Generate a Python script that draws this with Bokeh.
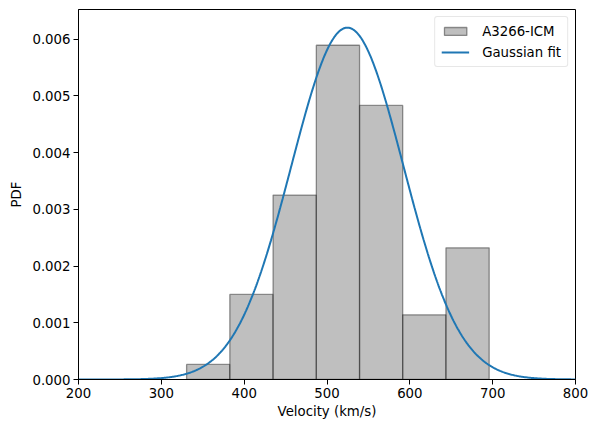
import numpy as np
from bokeh.plotting import figure
from bokeh.models import FixedTicker, PrintfTickFormatter, Range1d, Legend, LegendItem
from bokeh.embed import file_html
from bokeh.resources import INLINE

# Histogram (density) of A3266-ICM velocities
bin_edges = [330.5, 382.7, 434.9, 487.1, 539.3, 591.4, 643.6, 695.8]
densities = [0.000265, 0.00150, 0.00325, 0.00589, 0.00483, 0.00114, 0.00232]

# Gaussian fit parameters
fit_mean = 524.6
fit_sigma = 67.7
fit_amplitude = 0.00620

x_ticks = [200, 300, 400, 500, 600, 700, 800]
y_ticks = [0.000, 0.001, 0.002, 0.003, 0.004, 0.005, 0.006]

FONT = "DejaVu Sans"
FS = "13.3px"

p = figure(width=590, height=423, output_backend="svg", toolbar_location=None,
           x_range=Range1d(200, 800), y_range=Range1d(0, 0.00652),
           min_border_left=78, min_border_right=15, min_border_top=9, min_border_bottom=44)

lefts = bin_edges[:-1]
rights = bin_edges[1:]
bars = p.quad(left=lefts, right=rights, bottom=[0] * len(densities), top=densities,
              fill_color="gray", fill_alpha=0.5, line_color="black", line_alpha=0.4,
              line_width=1.3)

xs = np.linspace(200, 800, 600)
ys = fit_amplitude * np.exp(-((xs - fit_mean) ** 2) / (2 * fit_sigma ** 2))
line = p.line(xs, ys, line_color="#1f77b4", line_width=2)

legend = Legend(items=[LegendItem(label="A3266-ICM", renderers=[bars]),
                       LegendItem(label="Gaussian fit", renderers=[line])],
                location="top_right")
legend.label_text_font = FONT
legend.label_text_font_size = FS
legend.label_text_color = "black"
legend.border_line_color = "#d0d0d0"
legend.border_line_width = 1
legend.border_radius = 3
legend.margin = 7
legend.padding = 6
legend.spacing = 5
legend.glyph_width = 28
legend.glyph_height = 10
legend.label_height = 16
legend.label_standoff = 13
legend.background_fill_alpha = 0.8
p.add_layout(legend)

p.xgrid.visible = False
p.ygrid.visible = False
p.outline_line_color = "black"
p.outline_line_width = 1

p.xaxis.ticker = FixedTicker(ticks=x_ticks)
p.yaxis.ticker = FixedTicker(ticks=y_ticks)
p.yaxis.formatter = PrintfTickFormatter(format="%.3f")
p.xaxis.axis_label = "Velocity (km/s)"
p.yaxis.axis_label = "PDF"

for ax in (p.xaxis, p.yaxis):
    ax.major_label_text_font = FONT
    ax.major_label_text_font_size = FS
    ax.major_label_text_color = "black"
    ax.axis_label_text_font = FONT
    ax.axis_label_text_font_size = FS
    ax.axis_label_text_font_style = "normal"
    ax.axis_label_text_color = "black"
    ax.major_tick_in = 0
    ax.major_tick_out = 5
    ax.minor_tick_line_color = None
    ax.axis_line_color = "black"
    ax.major_tick_line_color = "black"
    ax.major_label_standoff = 3

p.xaxis.axis_label_standoff = 3
p.yaxis.axis_label_standoff = 5

open("out.html", "w").write(file_html(p, INLINE))
